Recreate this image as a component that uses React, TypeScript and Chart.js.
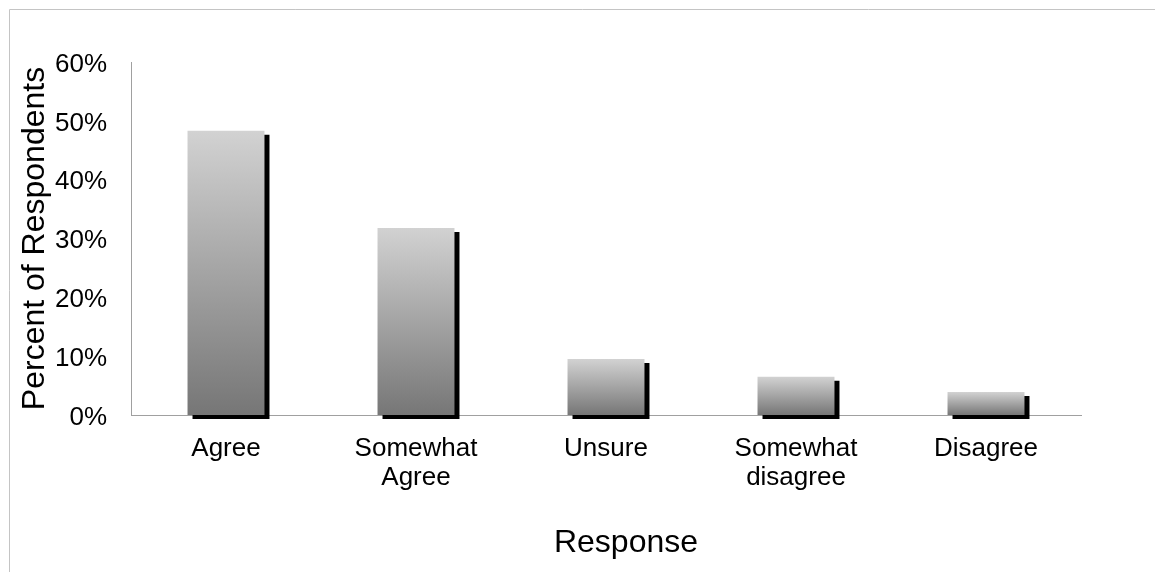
import React, { useEffect, useRef } from 'react';
import { Chart, registerables } from 'chart.js';

Chart.register(...registerables);

// ---- data ----
const categories: (string | string[])[] = [
  'Agree',
  ['Somewhat', 'Agree'],
  'Unsure',
  ['Somewhat', 'disagree'],
  'Disagree',
];
const percentValues: number[] = [48.3, 31.8, 9.5, 6.5, 3.9];
const yMin = 0;
const yMax = 60;
const yStep = 10;
const xTitle = 'Response';
const yTitle = 'Percent of Respondents';

const FONT = '"Liberation Sans", Arial, Helvetica, sans-serif';

const framePlugin = {
  id: 'frame',
  beforeDraw(chart: any) {
    const c = chart.ctx;
    c.save();
    c.strokeStyle = '#c4c4c4';
    c.lineWidth = 1;
    c.beginPath();
    c.moveTo(9.5, chart.height);
    c.lineTo(9.5, 9.5);
    c.lineTo(chart.width, 9.5);
    c.stroke();
    c.restore();
  },
};

const shadowPlugin = {
  id: 'barShadow',
  beforeDatasetsDraw(chart: any) {
    const c = chart.ctx;
    c.save();
    c.shadowColor = '#000000';
    c.shadowOffsetX = 5;
    c.shadowOffsetY = 4;
    c.shadowBlur = 0;
  },
  afterDatasetsDraw(chart: any) {
    chart.ctx.restore();
  },
};

const xTitlePlugin = {
  id: 'xTitleOffset',
  afterDraw(chart: any) {
    const { ctx, chartArea } = chart;
    ctx.save();
    ctx.font = `32px ${FONT}`;
    ctx.fillStyle = '#000';
    ctx.textAlign = 'center';
    ctx.textBaseline = 'middle';
    ctx.fillText(xTitle, (chartArea.left + chartArea.right) / 2 + 20, chartArea.bottom + 128);
    ctx.restore();
  },
};

export default function App() {
  const ref = useRef<HTMLCanvasElement | null>(null);

  useEffect(() => {
    if (!ref.current) return;
    Chart.defaults.font.family = FONT;
    const chart = new Chart(ref.current, {
      type: 'bar',
      data: {
        labels: categories,
        datasets: [
          {
            data: percentValues,
            backgroundColor: (ctx: any) => {
              const ch = ctx.chart;
              const ys = ch.scales && ch.scales.y;
              if (!ch.chartArea || !ys) return '#a0a0a0';
              const top = ys.getPixelForValue(ctx.raw as number);
              const base = ys.getPixelForValue(0);
              if (!isFinite(top) || !isFinite(base) || top === base) return '#a0a0a0';
              const g = ch.ctx.createLinearGradient(0, top, 0, base);
              g.addColorStop(0, '#d2d2d2');
              g.addColorStop(1, '#767676');
              return g;
            },
            borderWidth: 0,
            categoryPercentage: 1,
            barPercentage: 0.405,
            clip: false as any,
          },
        ],
      },
      options: {
        responsive: false,
        animation: false,
        layout: { padding: { top: 62, right: 74, bottom: 0, left: 0 } },
        plugins: {
          legend: { display: false },
          tooltip: { enabled: false },
        },
        scales: {
          x: {
            z: 1,
            grid: { display: false, drawTicks: false },
            border: { display: true, color: '#a0a0a0', width: 1 },
            ticks: {
              color: '#000',
              font: { size: 26, lineHeight: 1.115 },
              padding: 19,
              maxRotation: 0,
              autoSkip: false,
            },
            afterFit: (s: any) => {
              s.height = 157;
            },
          },
          y: {
            min: yMin,
            max: yMax,
            grid: { display: false, drawTicks: false },
            border: { display: true, color: '#a0a0a0', width: 1 },
            ticks: {
              stepSize: yStep,
              color: '#000',
              font: { size: 26 },
              padding: 24,
              labelOffset: 2.5,
              callback: (v: any) => `${v}%`,
            },
            title: {
              display: true,
              text: yTitle,
              color: '#000',
              font: { size: 32 },
              padding: { top: 16, bottom: 0 },
            },
            afterFit: (s: any) => {
              s.width = 131;
            },
          },
        },
      },
      plugins: [framePlugin, shadowPlugin, xTitlePlugin],
    });
    return () => chart.destroy();
  }, []);

  return (
    <div style={{ position: 'fixed', left: 0, top: 0, width: 1155, height: 572, background: '#fff' }}>
      <canvas ref={ref} width={1155} height={572} style={{ display: 'block', width: 1155, height: 572 }} />
    </div>
  );
}
